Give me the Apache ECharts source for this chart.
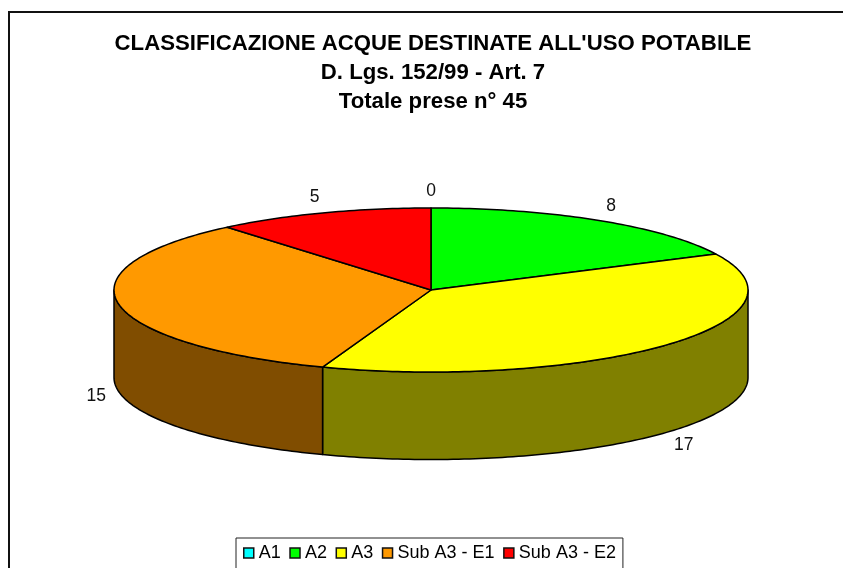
<!DOCTYPE html>
<html>
<head>
<meta charset="utf-8">
<style>html,body{margin:0;padding:0;background:#fff}#c{width:843px;height:568px}</style>
<script src="https://cdn.jsdelivr.net/npm/echarts@6/dist/echarts.min.js"></script>
</head>
<body>
<div id="c"></div>
<script>
const categories = ['A1', 'A2', 'A3', 'Sub A3 - E1', 'Sub A3 - E2'];
const values = [0, 8, 17, 15, 5];
const topColors = ['#00ffff', '#00ff00', '#ffff00', '#ff9900', '#ff0000'];
const sideColors = ['#008080', '#008000', '#808000', '#804d00', '#800000'];
const titleText = "CLASSIFICAZIONE ACQUE DESTINATE ALL'USO POTABILE\nD. Lgs. 152/99 - Art. 7\nTotale prese n° 45";

const cx = 431, cy = 290, rx = 317, ry = 82, depth = 87.5;
const total = values.reduce((a, b) => a + b, 0);
const rad = d => d * Math.PI / 180;
const pt = (deg, dy) => [cx + rx * Math.sin(rad(deg)), cy - ry * Math.cos(rad(deg)) + (dy || 0)];
function arc(a, b, dy) {
  const out = [];
  const n = Math.max(1, Math.ceil(Math.abs(b - a)));
  for (let i = 0; i <= n; i++) out.push(pt(a + (b - a) * i / n, dy));
  return out;
}
const line = { stroke: '#000', lineWidth: 1.5, lineJoin: 'round' };

function makeRender(idx) {
  return function (params, api) {
    const v = api.value(0);
    let before = 0;
    for (let i = 0; i < idx; i++) before += values[i];
    const a0 = before / total * 360, a1 = (before + v) / total * 360;
    const children = [];
    // front wall: the part of the slice between 90 and 270 degrees
    const w0 = Math.max(a0, 90), w1 = Math.min(a1, 270);
    if (v > 0 && w1 > w0) {
      const pts = arc(w0, w1, 0).concat(arc(w1, w0, depth));
      children.push({
        type: 'polygon', z2: 1,
        shape: { points: pts },
        style: Object.assign({ fill: sideColors[idx] }, line)
      });
    }
    if (v > 0) {
      const pts = [[cx, cy]].concat(arc(a0, a1, 0));
      children.push({
        type: 'polygon', z2: 2,
        shape: { points: pts },
        style: Object.assign({ fill: topColors[idx] }, line)
      });
    }
    const mid = (a0 + a1) / 2;
    const base = pt(mid, Math.cos(rad(mid)) < 0 ? depth : 0);
    children.push({
      type: 'text', z2: 3,
      style: {
        x: base[0] + 23 * Math.sin(rad(mid)),
        y: base[1] - 18 * Math.cos(rad(mid)) + 1,
        text: String(v),
        align: 'center', verticalAlign: 'middle',
        font: '17.5px "Liberation Sans", Arial, sans-serif',
        fill: '#111'
      }
    });
    return { type: 'group', children };
  };
}

const chart = echarts.init(document.getElementById('c'), null, { renderer: 'canvas', width: 843, height: 568 });
chart.setOption({
  animation: false,
  backgroundColor: '#ffffff',
  title: {
    text: titleText, left: 433, top: 29, textAlign: 'center', padding: 0,
    textStyle: { fontFamily: '"Liberation Sans", Arial, sans-serif', fontWeight: 'bold', fontSize: 22.2, lineHeight: 29, color: '#000' }
  },
  legend: {
    data: categories,
    left: 236, top: 538, orient: 'horizontal',
    padding: [6, 7, 30, 7],
    itemWidth: 10, itemHeight: 10, itemGap: 8.5,
    icon: 'rect',
    selectedMode: false,
    borderColor: '#222', borderWidth: 1, backgroundColor: '#fff',
    itemStyle: { borderColor: '#111', borderWidth: 1.5 },
    textStyle: { fontFamily: '"Liberation Sans", Arial, sans-serif', fontSize: 18, color: '#000' }
  },
  graphic: [{
    type: 'rect', z: -1, silent: true,
    shape: { x: 9, y: 12, width: 900, height: 700 },
    style: { fill: 'none', stroke: '#111', lineWidth: 2 }
  }],
  series: categories.map((name, i) => ({
    type: 'custom',
    name,
    coordinateSystem: 'none',
    silent: true,
    clip: false,
    itemStyle: { color: topColors[i] },
    renderItem: makeRender(i),
    data: [[values[i]]]
  }))
});
</script>
</body>
</html>
